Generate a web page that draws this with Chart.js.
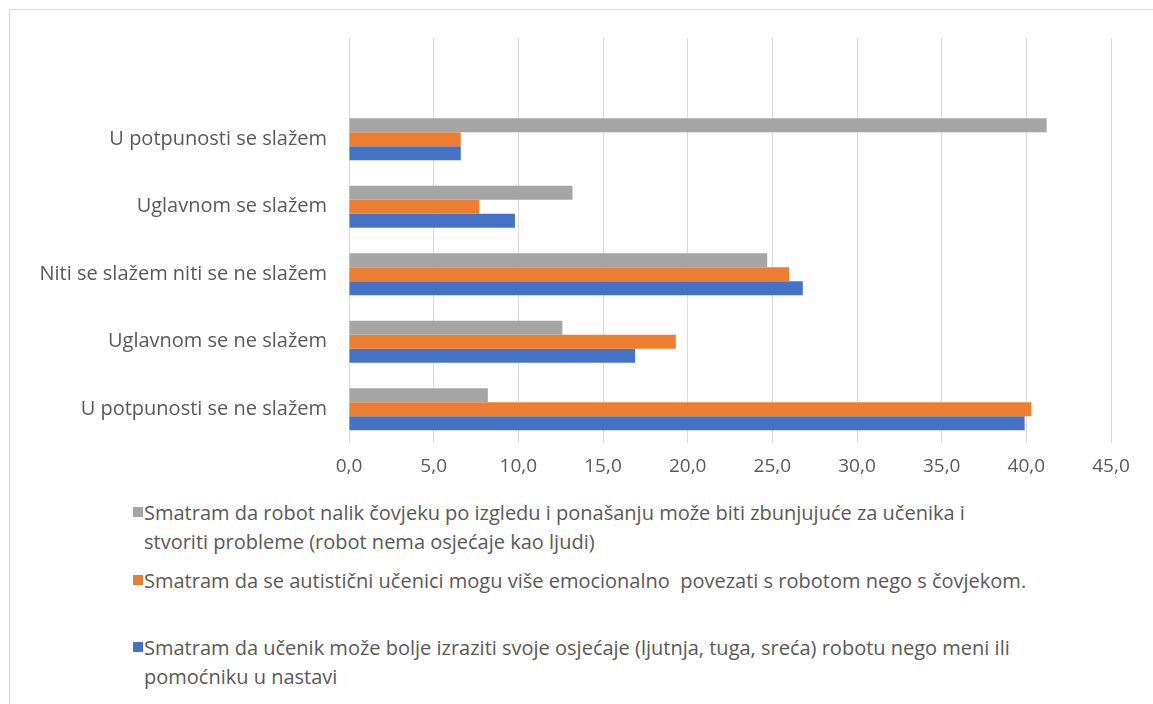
<!DOCTYPE html>
<html lang="hr">
<head>
  <meta charset="UTF-8">
  <title>Robot i učenici</title>
  <script src="https://cdn.jsdelivr.net/npm/chart.js"></script>
  <style>
    body { margin: 0; background: #fff; font-family: "Open Sans", Arial, sans-serif; }
    #okvir { position: absolute; left: 9px; top: 9px; width: 1160px; height: 720px; border: 1px solid #d9d9d9; }
    #graf { position: absolute; left: 0; top: 0; width: 1153px; height: 490px; }
    #legenda { position: absolute; left: 133px; top: 498px; width: 895px; color: #595959; font-size: 20px; line-height: 29px; }
    .stavka { position: relative; padding-left: 11px; }
    .stavka:nth-child(2) { margin-top: 10px; }
    .stavka:nth-child(3) { margin-top: 38px; }
    .kvadrat { position: absolute; left: 0; top: 9px; width: 10px; height: 10px; }
  </style>
</head>
<body>
  <div id="okvir"></div>
  <div id="graf"><canvas id="grafica"></canvas></div>
  <div id="legenda"></div>

  <script>
    // kategorije odozgo prema dolje (prva je prazna kao u izvorniku)
    const kategorije = ["", "U potpunosti se slažem", "Uglavnom se slažem", "Niti se slažem niti se ne slažem", "Uglavnom se ne slažem", "U potpunosti se ne slažem"];

    const nazivi = [
      "Smatram da robot nalik čovjeku po izgledu i ponašanju može biti zbunjujuće za učenika i stvoriti probleme (robot nema osjećaje kao ljudi)",
      "Smatram da se autistični učenici mogu više emocionalno  povezati s robotom nego s čovjekom.",
      "Smatram da učenik može bolje izraziti svoje osjećaje (ljutnja, tuga, sreća) robotu nego meni ili pomoćniku u nastavi"
    ];

    const zbunjujuce = [null, 41.2, 13.2, 24.7, 12.6, 8.2];
    const emocionalno = [null, 6.6, 7.7, 26.0, 19.3, 40.3];
    const izraziti = [null, 6.6, 9.8, 26.8, 16.9, 39.9];

    const boje = ["#A5A5A5", "#ED7D31", "#4472C4"];
    const serije = [zbunjujuce, emocionalno, izraziti];

    const datasets = serije.map((s, i) => ({
      label: nazivi[i],
      data: s,
      backgroundColor: boje[i],
      borderWidth: 0,
      categoryPercentage: 0.62,
      barPercentage: 1.0
    }));

    const tekst = "#595959";
    const font = { family: "'Open Sans', Arial, sans-serif", size: 20 };

    new Chart(document.getElementById("grafica"), {
      type: "bar",
      data: { labels: kategorije, datasets },
      options: {
        indexAxis: "y",
        responsive: true,
        maintainAspectRatio: false,
        animation: false,
        layout: { padding: { top: 38, right: 42, left: 0, bottom: 0 } },
        plugins: { legend: { display: false }, tooltip: { enabled: false } },
        scales: {
          x: {
            min: 0, max: 45,
            ticks: { stepSize: 5, color: tekst, font: { ...font, size: 19 }, padding: 12,
              callback: v => v.toFixed(1).replace(".", ",") },
            grid: { color: "#d9d9d9", lineWidth: 1, drawTicks: false },
            border: { display: false },
            afterFit: s => { s.height = 47; }
          },
          y: {
            ticks: { color: tekst, font, padding: 22 },
            grid: { display: false, drawTicks: false },
            border: { display: false },
            afterFit: s => { s.width = 349; }
          }
        }
      }
    });

    // legenda
    const leg = document.getElementById("legenda");
    nazivi.forEach((n, i) => {
      const d = document.createElement("div");
      d.className = "stavka";
      d.innerHTML = '<span class="kvadrat" style="background:' + boje[i] + '"></span>' + n.replace("  ", "&nbsp; ");
      leg.appendChild(d);
    });
  </script>
</body>
</html>
